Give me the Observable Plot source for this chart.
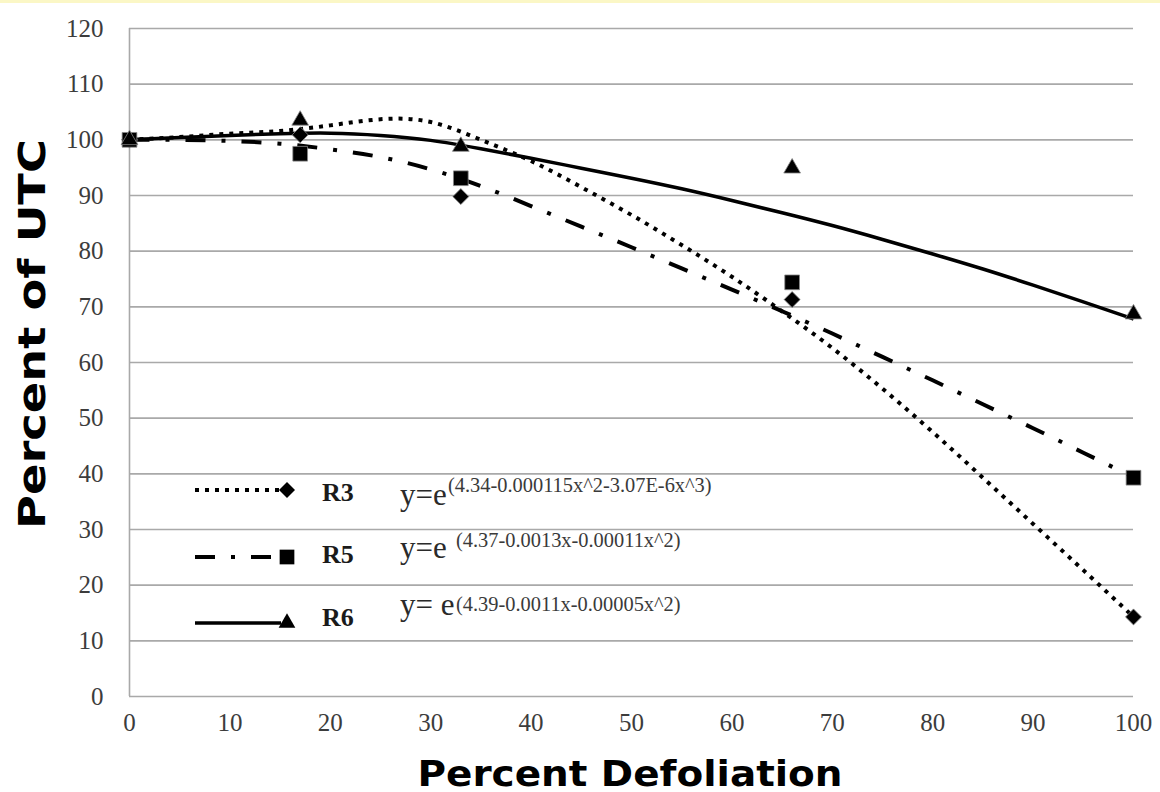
<!DOCTYPE html>
<html><head><meta charset="utf-8">
<script src="https://cdn.jsdelivr.net/npm/d3@7"></script>
<script src="https://cdn.jsdelivr.net/npm/@observablehq/plot@0.6"></script>
<style>
html,body{margin:0;padding:0;background:#fff;}
#strip{height:3px;background:#fbf7c6;}
#chart svg{display:block;}
</style></head><body>
<div id="strip"></div>
<div id="chart"></div>
<script>
// ---- data ----
const seriesNames = ["R3", "R5", "R6"];
const equations = ["(4.34-0.000115x^2-3.07E-6x^3)", "(4.37-0.0013x-0.00011x^2)", "(4.39-0.0011x-0.00005x^2)"];
const eqPrefix = ["y=e", "y=e", "y= e"];

const obsX = [0, 17, 33, 66, 100];
const r3Obs = [100, 100.9, 89.8, 71.3, 14.3];
const r5Obs = [100, 97.5, 93.1, 74.4, 39.3];
const r6Obs = [100, 103.5, 98.8, 94.9, 68.7];

const curveX = [0, 5, 10, 15, 20, 25, 30, 35, 40, 45, 50, 55, 60, 65, 70, 75, 80, 85, 90, 95, 100];
const r3Curve = [100, 100.5, 101.1, 101.6, 102.6, 103.7, 103.2, 100.0, 96.2, 91.5, 86.5, 81.1, 75.4, 69.2, 62.6, 55.3, 47.5, 39.3, 31.0, 22.7, 14.3];
const r5Curve = [100, 100, 99.8, 99.3, 98.3, 96.9, 94.7, 91.7, 88.1, 84.4, 80.7, 76.9, 73.1, 69.2, 65.2, 61.0, 56.8, 52.5, 48.2, 43.8, 39.4];
const r6Curve = [100, 100.4, 100.8, 101.1, 101.2, 100.8, 99.9, 98.4, 96.7, 94.9, 93.1, 91.2, 89.1, 86.9, 84.6, 82.1, 79.5, 76.8, 73.9, 70.9, 67.8];

const xTicks = [0, 10, 20, 30, 40, 50, 60, 70, 80, 90, 100];
const yTicks = [0, 10, 20, 30, 40, 50, 60, 70, 80, 90, 100, 110, 120];
const xTitle = "Percent Defoliation";
const yTitle = "Percent of UTC";

// ---- styles ----
const styles = {
  R3: {dash: "4 6", cap: "butt", width: 4, symbol: "diamond2", r: 7.2},
  R5: {dash: "20 16 4 16", cap: "butt", width: 4, symbol: "square", r: 8.3},
  R6: {dash: null, cap: "butt", width: 3.5, symbol: "triangle", r: 6.2}
};
const curveData = [r3Curve, r5Curve, r6Curve];
const obsData = [r3Obs, r5Obs, r6Obs];

const lineMarks = [];
const dotMarks = [];
seriesNames.forEach((name, k) => {
  const s = styles[name];
  const rows = curveX.map((x, i) => ({x, y: curveData[k][i]}));
  lineMarks.push(Plot.line(rows, {x: "x", y: "y", curve: "natural", stroke: "#000", strokeWidth: s.width,
    strokeDasharray: s.dash || undefined, strokeLinecap: s.cap}));
  const pts = obsX.map((x, i) => ({x, y: obsData[k][i]}));
  dotMarks.push(Plot.dot(pts, {x: "x", y: "y", symbol: () => s.symbol, r: s.r, fill: "#000", stroke: "#888", strokeWidth: 0.8}));
});

const W = 1160, H = 789;
const chart = Plot.plot({
  width: W, height: H,
  marginTop: 25, marginBottom: 96, marginLeft: 129, marginRight: 27,
  style: {fontFamily: "'Liberation Serif', serif", background: "#fff", overflow: "visible"},
  x: {domain: [0, 100]},
  y: {domain: [0, 120]},
  symbol: {type: "identity"},
  marks: [
    Plot.gridY(yTicks, {stroke: "#a9a9a9", strokeOpacity: 1, strokeWidth: 1.6}),
    Plot.ruleX([0], {stroke: "#a9a9a9", strokeWidth: 1.6}),
    Plot.axisY(yTicks, {tickSize: 0, tickPadding: 26, fontSize: 25, fill: "#3c3c3c", label: null}),
    Plot.axisX(xTicks, {tickSize: 0, tickPadding: 17, fontSize: 25, fill: "#3c3c3c", label: null}),
    ...lineMarks,
    ...dotMarks
  ]
});
document.getElementById("chart").appendChild(chart);

// ---- titles & legend (pixel layout) ----
const svg = d3.select(chart);
const off = 3; // strip height
svg.append("text")
  .attr("x", 630).attr("y", 786 - off)
  .attr("text-anchor", "middle")
  .attr("font-family", "'DejaVu Sans', sans-serif").attr("font-weight", "bold")
  .attr("font-size", 36).attr("fill", "#000")
  .attr("textLength", 425).attr("lengthAdjust", "spacingAndGlyphs")
  .text(xTitle);
svg.append("text")
  .attr("transform", `translate(45,${334 - off}) rotate(-90)`)
  .attr("text-anchor", "middle")
  .attr("font-family", "'DejaVu Sans', sans-serif").attr("font-weight", "bold")
  .attr("font-size", 38).attr("fill", "#000")
  .attr("textLength", 390).attr("lengthAdjust", "spacingAndGlyphs")
  .text(yTitle);

const legendRows = [
  {lineY: 490, markX: 287, labelBase: 501, eqBase: 505, supBase: 492, supX: 448},
  {lineY: 557, markX: 287, labelBase: 563, eqBase: 558, supBase: 547, supX: 456},
  {lineY: 623, markX: 287, labelBase: 626, eqBase: 615, supBase: 611, supX: 456}
];
const symbolTypes = {diamond2: d3.symbolDiamond2, square: d3.symbolSquare, triangle: d3.symbolTriangle};
const lg = svg.append("g").attr("text-anchor", "start");
seriesNames.forEach((name, k) => {
  const s = styles[name];
  const row = legendRows[k];
  const ly = row.lineY - off;
  const ln = lg.append("line").attr("x1", 195).attr("x2", 281).attr("y1", ly).attr("y2", ly)
    .attr("stroke", "#000").attr("stroke-width", s.width).attr("stroke-linecap", s.cap);
  if (s.dash) ln.attr("stroke-dasharray", s.dash);
  lg.append("path").attr("transform", `translate(${row.markX},${ly})`)
    .attr("d", d3.symbol(symbolTypes[s.symbol], Math.PI * s.r * s.r)())
    .attr("fill", "#000");
  lg.append("text").attr("x", 322).attr("y", row.labelBase - off)
    .attr("text-anchor", "start")
    .attr("font-family", "'Liberation Serif', serif").attr("font-weight", "bold")
    .attr("font-size", 26).attr("fill", "#1a1a1a").text(name);
  lg.append("text").attr("x", 400).attr("y", row.eqBase - off)
    .attr("text-anchor", "start")
    .attr("font-family", "'Liberation Serif', serif")
    .attr("font-size", 31).attr("fill", "#2a2a2a").text(eqPrefix[k]);
  lg.append("text").attr("x", row.supX).attr("y", row.supBase - off)
    .attr("text-anchor", "start")
    .attr("font-family", "'Liberation Serif', serif")
    .attr("font-size", 20.4).attr("fill", "#3a3a3a").text(equations[k]);
});
</script>
</body></html>
